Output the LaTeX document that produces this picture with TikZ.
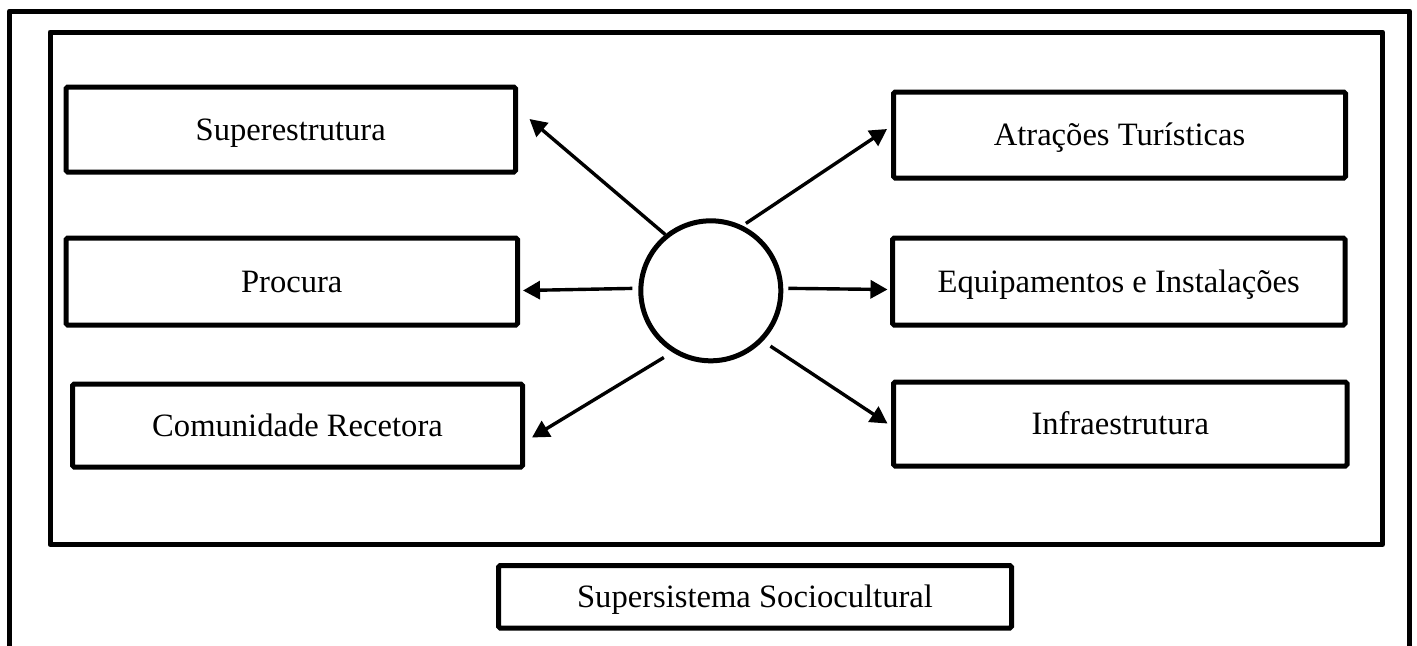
\documentclass[tikz,border=0pt]{standalone}
\usepackage{fontspec}
\setmainfont{Liberation Serif}
\usetikzlibrary{arrows.meta}
\begin{document}
\begin{tikzpicture}[x=0.5pt, y=-0.5pt,
  frame/.style={line width=2.5pt, line join=round},
  sysbox/.style={draw, line width=2.5pt, rounded corners=0.8pt, inner sep=0pt,
    text height=1.25em, text depth=0.2em,
    font=\fontsize{16.3}{19}\selectfont},
  hubcircle/.style={draw, circle, line width=2.5pt, inner sep=0pt, minimum size=70pt},
  link/.style={line width=1.7pt, -{Triangle[length=8.5pt,width=9pt]}}]
  \useasboundingbox (0,0) rectangle (1417,645);
  % outer frame, continuing below the page edge
  \begin{scope}
    \clip (0,0) rectangle (1417,645);
    \draw[frame] (9.5,700) -- (9.5,11) -- (1409.5,11) -- (1409.5,700);
  \end{scope}
  % inner frame
  \draw[frame] (50,32) rectangle (1382.5,544.5);
  % components
  \node[sysbox, minimum width=449.5*0.5pt, minimum height=85*0.5pt] (sup) at (290.75,129.5) {Superestrutura};
  \node[sysbox, minimum width=451.5*0.5pt, minimum height=87*0.5pt] (pro) at (291.75,281.5) {Procura};
  \node[sysbox, minimum width=450*0.5pt, minimum height=83*0.5pt] (com) at (297.5,425.5) {Comunidade Recetora};
  \node[sysbox, minimum width=452*0.5pt, minimum height=86*0.5pt] (atr) at (1119.5,135) {Atrações Turísticas};
  \node[sysbox, minimum width=452.5*0.5pt, minimum height=87*0.5pt] (equ) at (1118.75,281.5) {Equipamentos e Instalações};
  \node[sysbox, minimum width=453.5*0.5pt, minimum height=84*0.5pt] (inf) at (1120.25,424) {Infraestrutura};
  \node[sysbox, minimum width=513*0.5pt, minimum height=62.5*0.5pt] (soc) at (755,596.75) {Supersistema Sociocultural};
  % central element
  \node[hubcircle] (hub) at (710.8,290.8) {};
  % relations
  \draw[link] (hub.129.4) -- ([shift={(11.5,-10.5)}]sup.east);
  \draw[link, shorten <=2pt] (hub.64.9) -- ([shift={(-4,-6)}]atr.west);
  \draw[link, shorten <=3pt] (hub.178.7) -- ([shift={(3,9)}]pro.east);
  \draw[link, shorten <=2.5pt] (hub.2.6) -- ([shift={(-2.5,8)}]equ.west);
  \draw[link, shorten <=5pt] (hub.238.4) -- ([shift={(7,12)}]com.east);
  \draw[link, shorten <=4.5pt] (hub.316.8) -- ([shift={(-3.5,-0.5)}]inf.west);
\end{tikzpicture}
\end{document}
